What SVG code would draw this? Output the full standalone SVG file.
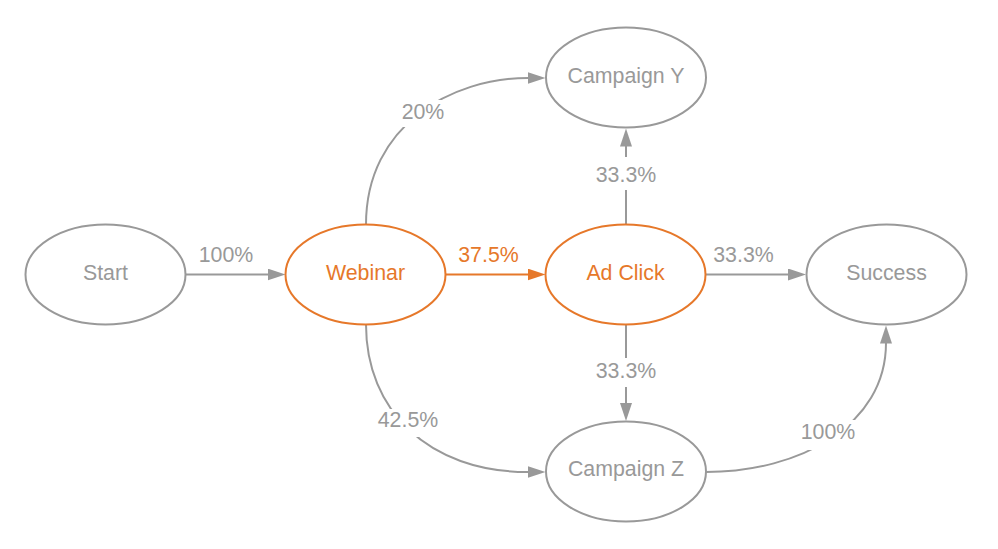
<svg xmlns="http://www.w3.org/2000/svg" width="998" height="549" viewBox="0 0 998 549">
<style>
.node{fill:#fff;stroke:#999;stroke-width:2}
.node.hl{stroke:#e6782a}
.lbl{font-family:"Liberation Sans",Arial,sans-serif;font-size:21.33px;fill:#999;text-anchor:middle}
.hl .lbl,.lbl.hl{fill:#e6782a}
.edge{fill:none;stroke:#999;stroke-width:2}
.edge.hl{stroke:#e6782a}
.bg{fill:#fff}
</style>
<defs>
<marker id="ah" viewBox="0 0 18 12" markerWidth="18" markerHeight="12" markerUnits="userSpaceOnUse" refX="0.5" refY="6" orient="auto"><path d="M0,0 L18,6 L0,12 z" fill="#999"/></marker>
<marker id="aho" viewBox="0 0 18 12" markerWidth="18" markerHeight="12" markerUnits="userSpaceOnUse" refX="0.5" refY="6" orient="auto"><path d="M0,0 L18,6 L0,12 z" fill="#e6782a"/></marker>
</defs>
<rect width="998" height="549" fill="#fff"/>
<g id="connectors">
<path class="edge" d="M186,274.5 L268,274.5" marker-end="url(#ah)"/>
<text class="lbl" x="226" y="262">100%</text>
<path class="edge hl" d="M445.5,274.5 L528,274.5" marker-end="url(#aho)"/>
<text class="lbl hl" x="488.5" y="262">37.5%</text>
<path class="edge" d="M705.5,274.5 L788.5,274.5" marker-end="url(#ah)"/>
<text class="lbl" x="743.5" y="262">33.3%</text>
<path class="edge" d="M626,224.5 L626,146" marker-end="url(#ah)"/>
<rect class="bg" x="592" y="157" width="68" height="33"/>
<text class="lbl" x="626" y="181.5">33.3%</text>
<path class="edge" d="M626,324.5 L626,403.5" marker-end="url(#ah)"/>
<rect class="bg" x="592" y="358" width="68" height="29"/>
<text class="lbl" x="626" y="378">33.3%</text>
<path class="edge" d="M366,224.5 C366,125 452,78 528,78" marker-end="url(#ah)"/>
<rect class="bg" x="401" y="100" width="46" height="27"/>
<text class="lbl" x="423" y="119">20%</text>
<path class="edge" d="M366,324.5 C366,410 428,472 528,472" marker-end="url(#ah)"/>
<rect class="bg" x="377" y="409" width="62" height="28"/>
<text class="lbl" x="408" y="427">42.5%</text>
<path class="edge" d="M706,472 C800,472 886,425 886,343" marker-end="url(#ah)"/>
<rect class="bg" x="800" y="420" width="56" height="30"/>
<text class="lbl" x="828" y="439">100%</text>
</g>
<g id="node-start"><ellipse class="node" cx="105.5" cy="274.5" rx="80" ry="50"/><text class="lbl" x="105.5" y="279.5">Start</text></g>
<g id="node-webinar" class="hl"><ellipse class="node hl" cx="365.5" cy="274.5" rx="80" ry="50"/><text class="lbl" x="365.5" y="279.5">Webinar</text></g>
<g id="node-adclick" class="hl"><ellipse class="node hl" cx="625.5" cy="274.5" rx="80" ry="50"/><text class="lbl" x="625.5" y="279.5">Ad Click</text></g>
<g id="node-success"><ellipse class="node" cx="886.5" cy="274.5" rx="80" ry="50"/><text class="lbl" x="886.5" y="279.5">Success</text></g>
<g id="node-campaign-y"><ellipse class="node" cx="626" cy="77.5" rx="80" ry="50"/><text class="lbl" x="626" y="82.5">Campaign Y</text></g>
<g id="node-campaign-z"><ellipse class="node" cx="626" cy="471.5" rx="80" ry="50"/><text class="lbl" x="626" y="476">Campaign Z</text></g>
</svg>
